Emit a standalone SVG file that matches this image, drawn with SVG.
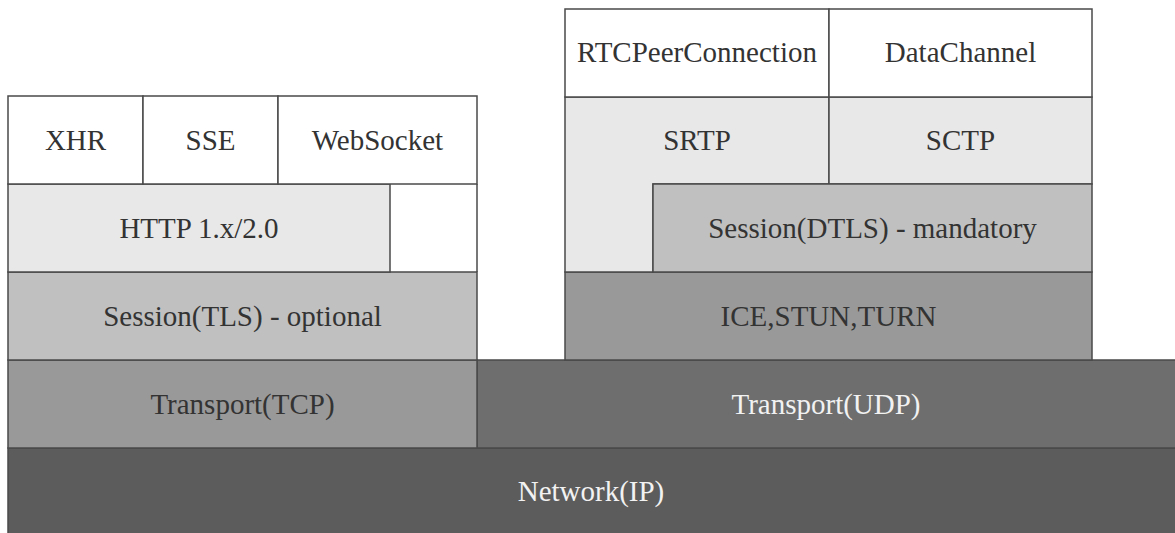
<svg xmlns="http://www.w3.org/2000/svg" width="1175" height="533" viewBox="0 0 1175 533">
<style>
.b{stroke:#4a4a4a;stroke-width:1.5}
.w{fill:#ffffff}
.l{fill:#e8e8e8}
.s{fill:#c0c0c0}
.m{fill:#999999}
.u{fill:#6e6e6e}
.n{fill:#5c5c5c}
text{font-family:"Liberation Serif","Times New Roman",serif;font-size:29px;text-anchor:middle;fill:#333333}
.lt{fill:#f2f2f2}
</style>
<rect width="1175" height="533" fill="#ffffff"/>
<g id="network">
<rect class="b n" x="8" y="448" width="1170" height="90"/>
<text class="lt" x="591" y="501">Network(IP)</text>
</g>
<g id="udp">
<rect class="b u" x="477" y="360" width="701" height="88"/>
<text class="lt" x="826" y="414">Transport(UDP)</text>
</g>
<g id="tcp">
<rect class="b m" x="8" y="360" width="469" height="88"/>
<text x="242.5" y="414">Transport(TCP)</text>
</g>
<g id="tls">
<rect class="b s" x="8" y="272" width="469" height="88"/>
<text x="242.5" y="326">Session(TLS) - optional</text>
</g>
<g id="http">
<rect class="b l" x="8" y="184" width="382" height="88"/>
<text x="199" y="238">HTTP 1.x/2.0</text>
</g>
<g id="xhr">
<rect class="b w" x="8" y="96" width="135" height="88"/>
<text x="75.5" y="150">XHR</text>
</g>
<g id="sse">
<rect class="b w" x="143" y="96" width="135" height="88"/>
<text x="210.5" y="150">SSE</text>
</g>
<g id="websocket">
<rect class="b w" x="278" y="96" width="199" height="88"/>
<path class="b" fill="none" d="M477,184 V272"/>
<text x="377.5" y="150">WebSocket</text>
</g>
<g id="ice">
<rect class="b m" x="565" y="272" width="527" height="88"/>
<text x="828.5" y="326">ICE,STUN,TURN</text>
</g>
<g id="srtp">
<path class="b l" d="M565,97 H829 V184 H653 V272 H565 Z"/>
<text x="697" y="150">SRTP</text>
</g>
<g id="sctp">
<rect class="b l" x="829" y="97" width="263" height="87"/>
<text x="960.5" y="150">SCTP</text>
</g>
<g id="dtls">
<rect class="b s" x="653" y="184" width="439" height="88"/>
<text x="872.5" y="238">Session(DTLS) - mandatory</text>
</g>
<g id="rtcpeer">
<rect class="b w" x="565" y="9" width="264" height="88"/>
<text x="697" y="62">RTCPeerConnection</text>
</g>
<g id="datachannel">
<rect class="b w" x="829" y="9" width="263" height="88"/>
<text x="960.5" y="62">DataChannel</text>
</g>
<g id="connectors"></g>
</svg>
